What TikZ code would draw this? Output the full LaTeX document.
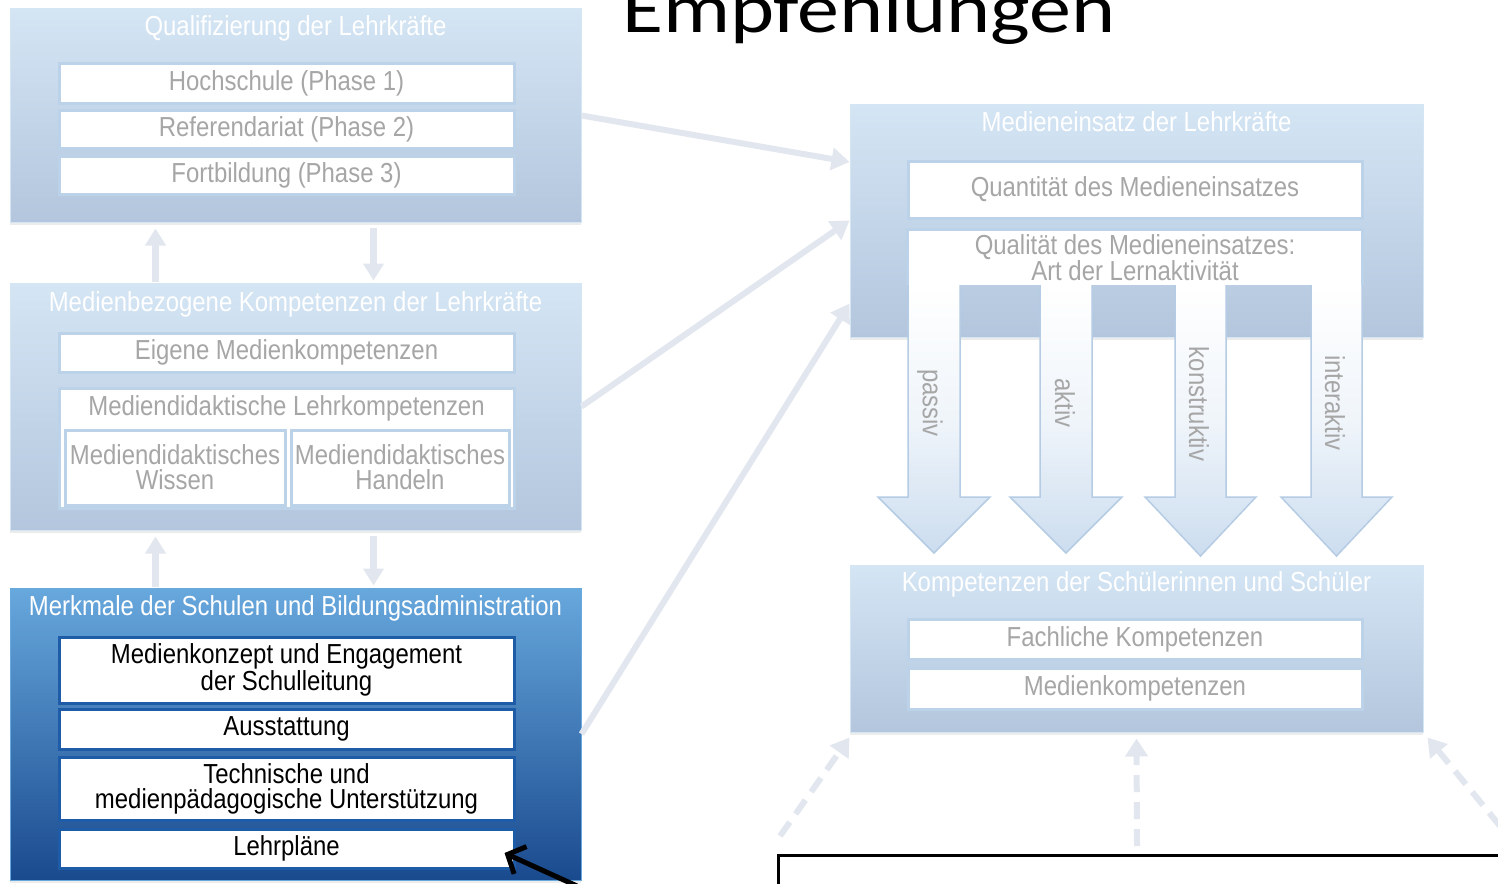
\documentclass[tikz,border=0pt]{standalone}
\usepackage{fontspec}
\setmainfont{Liberation Sans}[FakeStretch=0.87]
\newfontfamily\headfont{Carlito}[FakeStretch=1.2]
\usetikzlibrary{arrows.meta,shadows,calc}

\definecolor{boxtop}{HTML}{D4E5F4}
\definecolor{boxbot}{HTML}{B3C6DD}
\definecolor{darktop}{HTML}{67A8DD}
\definecolor{darkbot}{HTML}{1A4A8E}
\definecolor{innerline}{HTML}{BCD2E9}
\definecolor{darkline}{HTML}{1F5CA8}
\definecolor{fadedtext}{HTML}{A6A6A6}
\definecolor{linkc}{HTML}{E2E7EF}
\definecolor{arrowline}{HTML}{B5CCE4}
\definecolor{arrowbot}{HTML}{CCDDEF}

\begin{document}
\begin{tikzpicture}[x=1pt,y=-1pt,
  txt/.style={font=\fontsize{27.5}{25}\selectfont},
  panel/.style={rectangle, inner sep=0pt, top color=boxtop, bottom color=boxbot,
    draw=boxtop, line width=1pt,
    drop shadow={shadow xshift=0pt, shadow yshift=-3pt, opacity=0.15}},
  darkpanel/.style={panel, top color=darktop, bottom color=darkbot, draw=darktop},
  paneltitle/.style={txt, text=white, anchor=base, inner sep=0pt},
  item/.style={txt, rectangle, fill=white, draw=innerline, line width=3pt,
    minimum width=455pt, inner sep=0pt, text=fadedtext, align=center},
  darkitem/.style={item, draw=darkline, text=black},
  itemtitle/.style={txt, text=fadedtext, anchor=base, inner sep=0pt},
  link/.style={draw=linkc, line width=6pt, -{Triangle[length=18pt,width=22pt]}},
  dashlink/.style={link, dash pattern=on 17pt off 10pt},
  updown/.style={draw=linkc, line width=7pt, -{Triangle[length=17pt,width=20pt]}},
  blockarrow/.style={top color=white, bottom color=arrowbot,
    middle color=arrowbot!30!white, draw=arrowline, line width=1.5pt},
  arrowlabel/.style={txt, text=fadedtext, rotate=-90, inner sep=0pt},
]
\useasboundingbox (0,0) rectangle (1498,883);
\clip (0,0) rectangle (1498,883);
\fill[white] (0,0) rectangle (1498,883);

% heading, cut by the upper edge
\node[anchor=base west, inner sep=0pt, font=\headfont\fontsize{70}{70}\selectfont]
  (heading) at (622,33) {Empfehlungen};

% --- left column -------------------------------------------------------
\node[panel, minimum width=571pt, minimum height=213pt] (A) at (295.5,115.5) {};
\node[paneltitle] (Atitle) at (295.5,36) {Qualifizierung der Lehrkräfte};
\node[item, minimum height=39pt] (a1) at (286.5,83.5) {Hochschule (Phase 1)};
\node[item, minimum height=38pt] (a2) at (286.5,129) {Referendariat (Phase 2)};
\node[item, minimum height=38pt] (a3) at (286.5,175) {Fortbildung (Phase 3)};

\node[panel, minimum width=571pt, minimum height=247pt] (B) at (295.5,406.5) {};
\node[paneltitle] (Btitle) at (295.5,311) {Medienbezogene Kompetenzen der Lehrkräfte};
\node[item, minimum height=39pt] (b1) at (286.5,352.5) {Eigene Medienkompetenzen};
\node[item, minimum height=120pt] (b2) at (286.5,448) {};
\node[itemtitle] (b2title) at (286.5,415) {Mediendidaktische Lehrkompetenzen};
\node[item, minimum width=220pt, minimum height=75pt] (b21) at (175,467.5)
  {Mediendidaktisches\\Wissen};
\node[item, minimum width=218pt, minimum height=75pt] (b22) at (400,467.5)
  {Mediendidaktisches\\Handeln};

\node[darkpanel, minimum width=571pt, minimum height=292pt] (C) at (295.5,734) {};
\node[paneltitle] (Ctitle) at (295.5,615) {Merkmale der Schulen und Bildungsadministration};
\node[darkitem, minimum height=66pt] (c1) at (286.5,670)
  {Medienkonzept und Engagement\\der Schulleitung};
\node[darkitem, minimum height=40pt] (c2) at (286.5,729) {Ausstattung};
\node[darkitem, minimum height=63pt] (c3) at (286.5,788.5)
  {Technische und\\medienpädagogische Unterstützung};
\node[darkitem, minimum height=39pt] (c4) at (286.5,848.5) {Lehrpläne};

% vertical links between the left panels
\draw[updown] ([xshift=146pt,yshift=1pt]B.north west) -- ([xshift=146pt,yshift=-6pt]A.south west);
\draw[updown] ([xshift=364pt,yshift=-5pt]A.south west) -- ([xshift=364pt,yshift=2pt]B.north west);
\draw[updown] ([xshift=146pt,yshift=1pt]C.north west) -- ([xshift=146pt,yshift=-6pt]B.south west);
\draw[updown] ([xshift=364pt,yshift=-5pt]B.south west) -- ([xshift=364pt,yshift=2pt]C.north west);

% --- right column ------------------------------------------------------
\node[panel, minimum width=573pt, minimum height=233pt] (D) at (1136.5,220.5) {};
\node[paneltitle] (Dtitle) at (1136.5,131) {Medieneinsatz der Lehrkräfte};
\node[item, minimum width=454pt, minimum height=57pt] (d1) at (1135,189.5)
  {Quantität des Medieneinsatzes};
\node[txt, rectangle, fill=white, minimum width=454pt, minimum height=55pt,
  inner sep=0pt, text=fadedtext, align=center] (d2) at (1135,257.5)
  {Qualität des Medieneinsatzes:\\Art der Lernaktivität};
\draw[innerline, line width=3pt]
  (d2.south west) -- (d2.north west) -- (d2.north east) -- (d2.south east);

% four block arrows for the kinds of learning activity
\foreach \xl/\xr/\ty in {908/960/553, 1040/1092/553, 1175/1226/556, 1311/1362/556}{
  \draw[blockarrow] (\xl,285) -- (\xl,497) -- ({\xl-30},497) -- ({(\xl+\xr)/2},\ty)
    -- ({\xr+30},497) -- (\xr,497) -- (\xr,285);
}
\node[arrowlabel] (lp) at (930,403) {passiv};
\node[arrowlabel] (la) at (1065,403) {aktiv};
\node[arrowlabel] (lk) at (1199,404) {konstruktiv};
\node[arrowlabel] (li) at (1335,403) {interaktiv};

\node[panel, minimum width=573pt, minimum height=167pt] (E) at (1136.5,648.5) {};
\node[paneltitle] (Etitle) at (1136.5,591) {Kompetenzen der Schülerinnen und Schüler};
\node[item, minimum width=454pt, minimum height=40pt] (e1) at (1135,639) {Fachliche Kompetenzen};
\node[item, minimum width=454pt, minimum height=41pt] (e2) at (1135,688.5) {Medienkompetenzen};

% links from the left panels to the use of media
\draw[link] (A.east) -- ($(D.north west)!0.25!(D.south west)$);
\draw[link] (B.east) -- ($(D.north west)!0.5!(D.south west)$);
\draw[link] (C.east) -- ($(D.north west)!0.855!(D.south west)$);

% dashed links into the student competences
\coordinate (s1) at (780,836);
\coordinate (s2) at (1137,846);
\coordinate (s3) at (1500,826);
\draw[dashlink] (s1) -- ([yshift=-5pt]E.south west);
\draw[dashlink] (s2) -- ([yshift=-6pt]E.south);
\draw[dashlink] (s3) -- ([xshift=4pt,yshift=-5pt]E.south east);

% lower frame and pointer
\node[draw=black, line width=2.5pt, rectangle, minimum width=760pt, minimum height=80pt,
  anchor=north west, inner sep=0pt] (F) at (777,854) {};
\coordinate (p0) at (577,886);
\draw[black, line width=5pt, -{Straight Barb[length=14pt,width=30pt]}]
  (p0) -- ([xshift=-11pt,yshift=-4.5pt]c4.east);
\end{tikzpicture}
\end{document}
